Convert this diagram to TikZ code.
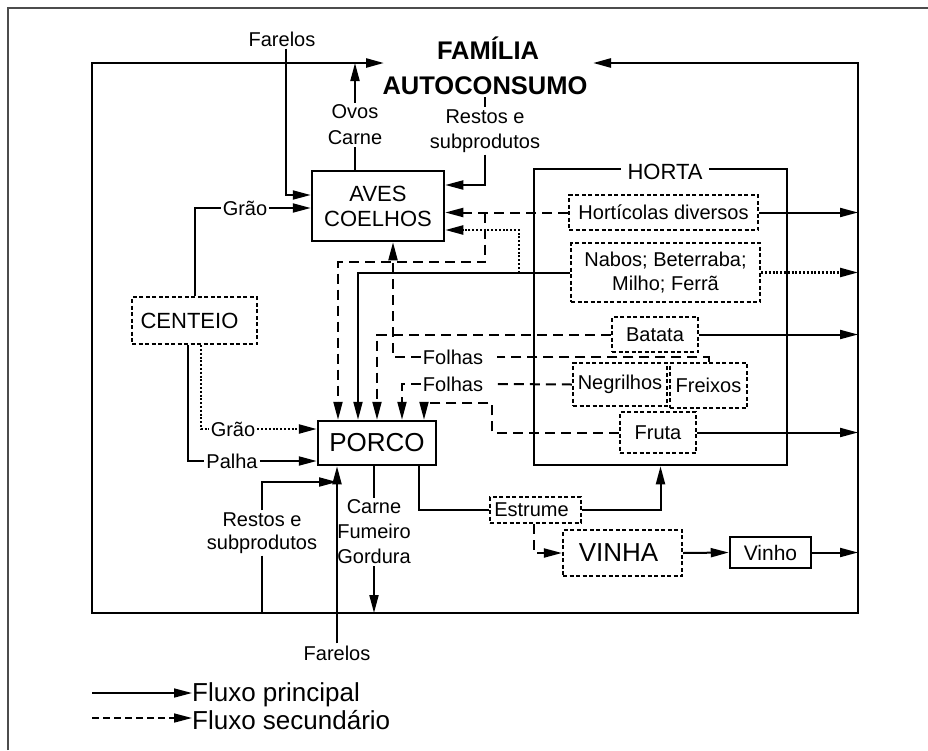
\documentclass[tikz,border=0pt]{standalone}
\usepackage{fontspec}
\setmainfont{Liberation Sans}
\usetikzlibrary{arrows.meta,calc}
\begin{document}
\begin{tikzpicture}[x=1pt,y=-1pt,
 every node/.style={inner sep=2pt, font=\fontsize{20}{24}\selectfont},
 main/.style={line width=2pt},
 sec/.style={line width=2pt, dash pattern=on 10pt off 6pt},
 dot/.style={line width=2.3pt, dash pattern=on 2pt off 1.8pt},
 tip/.style={-{Triangle[length=18pt,width=9pt]}},
 sbox/.style={draw, line width=2.5pt, inner sep=0pt, align=center},
 dbox/.style={draw, line width=2.2pt, dash pattern=on 4pt off 2.5pt, inner sep=0pt, align=center},
 lbl/.style={align=center}
]
\useasboundingbox (0,0) rectangle (928,750);
% page frame
\draw[gray!60!black, line width=1.5pt] (8,750) -- (8,8) -- (928,8);

% frame coordinates
\coordinate (ftl) at (92,63);
\coordinate (fb) at (92,613);
\coordinate (fr) at (858,63);
\coordinate (tl) at (384,63);
\coordinate (tr) at (593,63);

% title
\node[font=\fontsize{25.5}{30}\selectfont\bfseries] (fam) at (488,48) {FAMÍLIA};
\node[font=\fontsize{25.5}{30}\selectfont\bfseries] (auto) at (485,86) {AUTOCONSUMO};

% main frame with arrows towards the family
\draw[line width=2.5pt, {Triangle[length=18pt,width=9pt]}-{Triangle[length=18pt,width=9pt]}]
  (tl) -- (ftl) -- (fb) -- (858,613) -- (fr) -- (tr);

% HORTA
\node[sbox, minimum width=253pt, minimum height=296pt] (horta) at (660.5,317) {};
\node[fill=white, inner xsep=7pt, inner ysep=0pt, font=\fontsize{22}{26}\selectfont] (hortat) at (665,172) {HORTA};

% boxes
\node[sbox, minimum width=132pt, minimum height=70pt, font=\fontsize{22}{25}\selectfont] (aves) at (378,206) {AVES\\COELHOS};
\node[sbox, minimum width=118pt, minimum height=44pt, font=\fontsize{26}{30}\selectfont] (porco) at (377,443) {PORCO};
\node[dbox, minimum width=125pt, minimum height=47pt, font=\fontsize{22}{26}\selectfont] (cent) at (194.5,320.5) {CENTEIO\hspace*{10pt}};
\node[dbox, minimum width=189pt, minimum height=35pt] (hort) at (663.5,212.5) {Hortícolas diversos};
\node[dbox, minimum width=189pt, minimum height=59pt] (nabos) at (665.5,272.5) {Nabos; Beterraba;\\Milho; Ferrã};
\node[dbox, minimum width=86pt, minimum height=35pt] (batata) at (655,334.5) {Batata};
\node[dbox, minimum width=94pt, minimum height=43pt] (negr) at (620,384.5) {Negrilhos};
\node[dbox, minimum width=77pt, minimum height=45pt] (freixos) at (708.5,385.5) {Freixos};
\node[dbox, minimum width=76pt, minimum height=41pt] (fruta) at (658,432.5) {Fruta};
\node[dbox, minimum width=91pt, minimum height=26pt] (estrume) at (535.5,510) {Estrume\hspace*{8pt}};
\node[dbox, minimum width=119pt, minimum height=46pt, font=\fontsize{26}{30}\selectfont] (vinha) at (622.5,553) {VINHA\hspace*{8pt}};
\node[sbox, minimum width=81pt, minimum height=31pt, font=\fontsize{21}{25}\selectfont] (vinho) at (770.5,552.5) {Vinho};

% labels
\node (farT) at (282,39) {Farelos};
\node[lbl, font=\fontsize{20}{26}\selectfont] (ovos) at (355,125) {Ovos\\Carne};
\node[lbl, font=\fontsize{20}{25}\selectfont] (restT) at (485,131) {Restos e\\subprodutos};
\node (grao1) at (245,208) {Grão};
\node (grao2) at (233,429) {Grão};
\node (palha) at (232,461) {Palha};
\node (folhas1) at (453,357) {Folhas};
\node (folhas2) at (453,384) {Folhas};
\node[lbl, font=\fontsize{20}{23}\selectfont] (restB) at (262,533) {Restos e\\subprodutos};
\node[lbl, font=\fontsize{20}{25}\selectfont] (cfg) at (374,532) {Carne\\Fumeiro\\Gordura};
\node (farB) at (337,653) {Farelos};

% top connectors
\draw[main,tip] ([xshift=4pt]farT.south) |- ([yshift=11pt]aves.west);
\draw[main,tip] (ovos.north) -- (ovos.north |- ftl);
\draw[main] (ovos.south) -- (ovos.south |- aves.north);
\draw[main] (auto.south) -- (restT.north);
\draw[main,tip] (restT.south) |- ([yshift=21pt]aves.east);

% centeio
\draw[main] (cent.north) |- (grao1.west);
\draw[main,tip] (grao1.east) -- (grao1.east -| aves.west);
\draw[dot] ([xshift=6.5pt]cent.south) |- (grao2.west);
\draw[dot,tip] (grao2.east) -- (grao2.east -| porco.west);
\draw[main] ([xshift=-6.5pt]cent.south) |- (palha.west);
\draw[main,tip] (palha.east) -- (palha.east -| porco.west);

% horticolas
\coordinate (hb) at (485,212.5);
\draw[sec,tip] (hort.west) -- (hort.west -| aves.east);
\draw[sec,tip] (hb) |- (338,262) -- ([xshift=-39pt]porco.north);

% nabos
\draw[main,tip] (nabos.west) -| ([xshift=-19pt]porco.north);
\coordinate (nb) at (519,272.5);
\draw[dot,tip] (nb) |- ([yshift=-24pt]aves.east);

% folhas
\draw[sec] (freixos.north) |- ([xshift=12pt]folhas1.east);
\draw[sec,tip] (folhas1.west) -| ([xshift=15pt]aves.south);
\draw[sec] (negr.west) -- ([xshift=12pt]folhas2.east);
\draw[sec,tip] (folhas2.west) -| ([xshift=25pt]porco.north);

% batata, fruta
\draw[sec,tip] (batata.west) -| (porco.north);
\draw[sec,tip] (fruta.west) -| (492,403) -| ([xshift=47pt]porco.north);

% outputs to the right
\draw[main,tip] (hort.east) -- (hort.east -| fr);
\draw[dot,tip] (nabos.east) -- (nabos.east -| fr);
\draw[main,tip] (batata.east) -- (batata.east -| fr);
\draw[main,tip] (fruta.east) -- (fruta.east -| fr);
\draw[main,tip] (vinho.east) -- (vinho.east -| fr);

% bottom
\coordinate (fv) at (337,482);
\draw[main,tip] (farB.north) -- (farB.north |- porco.south);
\draw[main] (restB.south) -- (restB.south |- fb);
\draw[main,tip] (restB.north) |- (fv);
\draw[main] (cfg.north |- porco.south) -- (cfg.north);
\draw[main,tip] (cfg.south) -- (cfg.south |- fb);
\draw[main] ([xshift=42pt]porco.south) |- (estrume.west);
\draw[main,tip] (estrume.east) -| (horta.south);
\draw[sec,tip] ([xshift=-1.5pt]estrume.south) |- (vinha.west);
\draw[main,tip] (vinha.east) -- (vinho.west);

% legend
\node[anchor=west, inner sep=0pt, font=\fontsize{26}{30}\selectfont] (leg1) at (192,695) {Fluxo principal};
\node[anchor=west, inner sep=0pt, font=\fontsize{26}{30}\selectfont] (leg2) at (192,720) {Fluxo secundário};
\coordinate (l1) at (92,693);
\coordinate (l2) at (92,718);
\draw[line width=1.6pt,tip] (l1) -- (l1 -| leg1.west);
\draw[line width=1.6pt, dash pattern=on 7pt off 4pt, tip] (l2) -- (l2 -| leg2.west);
\end{tikzpicture}
\end{document}
